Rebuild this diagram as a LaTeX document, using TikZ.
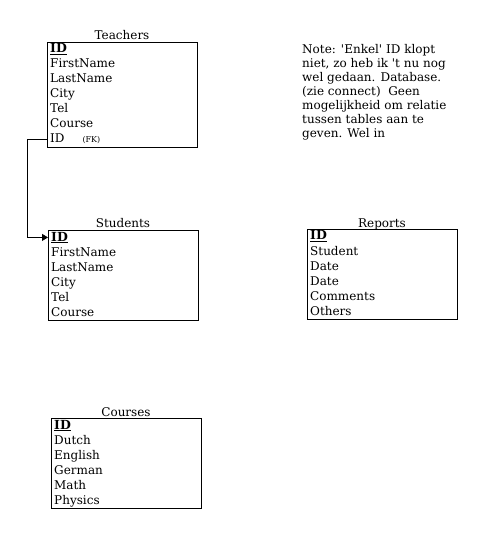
\documentclass[tikz,border=0pt]{standalone}
\usepackage{fontspec}
\setmainfont{DejaVu Serif}
\usetikzlibrary{positioning,arrows.meta}

\tikzset{
  tablebox/.style={draw, line width=0.8pt, anchor=north west, inner sep=0pt,
    minimum width=150pt},
  tabletitle/.style={anchor=base, inner sep=0pt, font=\fontsize{12}{15}\selectfont},
  field/.style={anchor=base west, inner sep=0pt, font=\fontsize{12}{15}\selectfont},
  keyfield/.style={field, font=\fontsize{12.5}{15}\selectfont\bfseries},
  fkarrow/.style={line width=0.8pt, -{Triangle[length=6pt,width=7pt]}}
}

\newcommand{\pk}{\underline{ID}}
\newcommand{\sq}{\textquotesingle}

\begin{document}
\begin{tikzpicture}[x=1pt,y=-1pt]
  \useasboundingbox (0,0) rectangle (483,534);

  % Teachers
  \node [tablebox, minimum height=105pt] (teachers) at (47,42) {};
  \node [tabletitle] (teachers-title) at (122,40) {Teachers};
  \node [keyfield] (teachers-id) at (50,53) {\pk};
  \node [field] at (50,68) {FirstName};
  \node [field] at (50,83) {LastName};
  \node [field] at (50,98) {City};
  \node [field] at (50,113) {Tel};
  \node [field] at (50,128) {Course};
  \node [field] (teachers-fk) at (50,143) {ID\hspace{18pt}{\fontsize{8}{9}\selectfont(FK)}};

  % Students
  \node [tablebox, minimum height=90pt] (students) at (48,230) {};
  \node [tabletitle] (students-title) at (123,228) {Students};
  \node [keyfield] (students-id) at (51,241) {\pk};
  \node [field] at (51,256) {FirstName};
  \node [field] at (51,271) {LastName};
  \node [field] at (51,286) {City};
  \node [field] at (51,301) {Tel};
  \node [field] at (51,316) {Course};

  % Reports
  \node [tablebox, minimum height=90pt] (reports) at (307,229) {};
  \node [tabletitle] (reports-title) at (382,227) {Reports};
  \node [keyfield] (reports-id) at (310,240) {\pk};
  \node [field] at (310,255) {Student};
  \node [field] at (310,270) {Date};
  \node [field] at (310,285) {Date};
  \node [field] at (310,300) {Comments};
  \node [field] at (310,315) {Others};

  % Courses
  \node [tablebox, minimum height=90pt] (courses) at (51,418) {};
  \node [tabletitle] (courses-title) at (126,416) {Courses};
  \node [keyfield] (courses-id) at (54,429) {\pk};
  \node [field] at (54,444) {Dutch};
  \node [field] at (54,459) {English};
  \node [field] at (54,474) {German};
  \node [field] at (54,489) {Math};
  \node [field] at (54,504) {Physics};

  % note
  \node [anchor=north west, inner sep=0pt, align=left,
    font=\fontsize{12}{14}\selectfont] (note) at (302,44)
    {Note: \sq Enkel\sq{} ID klopt\\ niet, zo heb ik \sq t nu nog\\ wel gedaan. Database.\\
     (zie connect)\ \ Geen\\ mogelijkheid om relatie\\ tussen tables aan te\\ geven. Wel in};

  % foreign key
  \draw [fkarrow] (teachers.west |- teachers-fk) -- ++(-20,0)
    |- (students.west |- students-id);
\end{tikzpicture}
\end{document}
